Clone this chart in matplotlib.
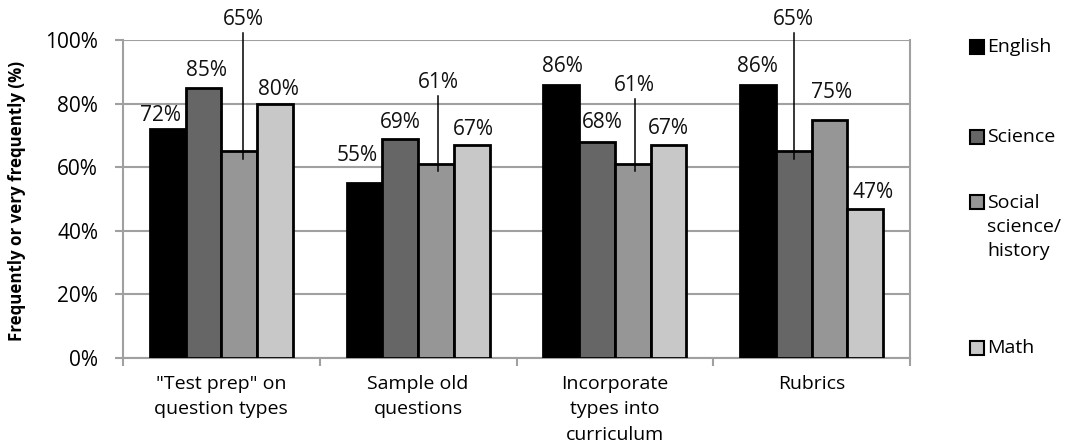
import matplotlib
matplotlib.use("Agg")
import numpy as np
import matplotlib.pyplot as plt
from matplotlib.patches import Rectangle

plt.rcParams['font.family'] = ['Open Sans', 'DejaVu Sans']

# Data
categories = ['"Test prep" on\nquestion types', 'Sample old\nquestions',
              'Incorporate\ntypes into\ncurriculum', 'Rubrics']
series = ['English', 'Science', 'Social\nscience/\nhistory', 'Math']
english = [72, 55, 86, 86]
science = [85, 69, 68, 65]
social = [65, 61, 61, 75]
math = [80, 67, 67, 47]
yticks = [0, 20, 40, 60, 80, 100]

# Layout / style
colors = ['#000000', '#666666', '#969696', '#c8c8c8']
BAR_W = 0.182
# label positions (y in data units, x nudge in px) and which ones get a leader line
label_y = [[76.4, 90.3, 106.3, 84.3],
           [63.8, 73.9, 86.5, 71.7],
           [91.8, 73.9, 85.8, 72.3],
           [91.8, 106.3, 83.6, 51.9]]
label_dx = [[-7, 3, 4, 3],
            [-7, 0, 2, 2],
            [1, 5, 2, 0],
            [0, 0, 2, 8]]
leaders = {(0, 2), (1, 2), (2, 2), (3, 1)}

values = np.array([english, science, social, math])  # series x category

fig = plt.figure(figsize=(10.65, 4.46), dpi=100)
ax = fig.add_axes([123 / 1065, 88 / 446, 787 / 1065, 318 / 446])

x = np.arange(len(categories))
offsets = (np.arange(4) - 1.5) * BAR_W

for s in range(4):
    ax.bar(x + offsets[s], values[s], width=BAR_W, color=colors[s],
           edgecolor='black', linewidth=2, zorder=3)

for g in range(len(categories)):
    for s in range(4):
        bx = x[g] + offsets[s] + label_dx[g][s] / 197
        ly = label_y[g][s]
        ax.text(bx, ly, f"{values[s][g]}%", ha='center', va='center',
                fontsize=15, color='#111111', zorder=5, clip_on=False)
        if (g, s) in leaders:
            ax.plot([bx, bx], [ly - 4.2, values[s][g] - 2.3], color='black',
                    lw=1.1, zorder=4, clip_on=False)

ax.set_xlim(-0.5, len(categories) - 0.5)
ax.set_ylim(0, 100)
ax.set_yticks(yticks)
ax.set_yticklabels([f"{t}%" for t in yticks], fontsize=15)
ax.set_xticks(x)
ax.set_xticklabels(categories, fontsize=14, linespacing=1.55)
ax.set_xticks(np.arange(len(categories) + 1) - 0.5, minor=True)
ax.tick_params(axis='x', which='major', length=0, pad=12)
ax.tick_params(axis='x', which='minor', length=6, color='#a0a0a0', width=1.5)
ax.tick_params(axis='y', length=6, color='#a0a0a0', width=1.5, pad=12)
ax.yaxis.grid(True, color='#a0a0a0', lw=1.5, zorder=0)
ax.set_axisbelow(True)
for sp in ax.spines.values():
    sp.set_color('#a0a0a0')
    sp.set_linewidth(1.5)
ax.spines['top'].set_visible(False)
ax.set_ylabel('Frequently or very frequently (%)', fontsize=12.2, fontweight='bold')
ax.yaxis.set_label_coords(-0.123, 0.494)

# legend drawn by hand
leg_y = [47, 137, 202, 348]
text_y = [47, 137, 227, 348]
W, H = 1065, 446
for s in range(4):
    yc = leg_y[s]
    fig.add_artist(Rectangle((970 / W, (H - yc - 7) / H), 14 / W, 14 / H,
                             transform=fig.transFigure, facecolor=colors[s],
                             edgecolor='black', linewidth=1.5))
    fig.text(987 / W, (H - text_y[s]) / H, series[s], fontsize=14, va='center',
             ha='left', linespacing=1.45)

fig.savefig('out.png', dpi=100)
